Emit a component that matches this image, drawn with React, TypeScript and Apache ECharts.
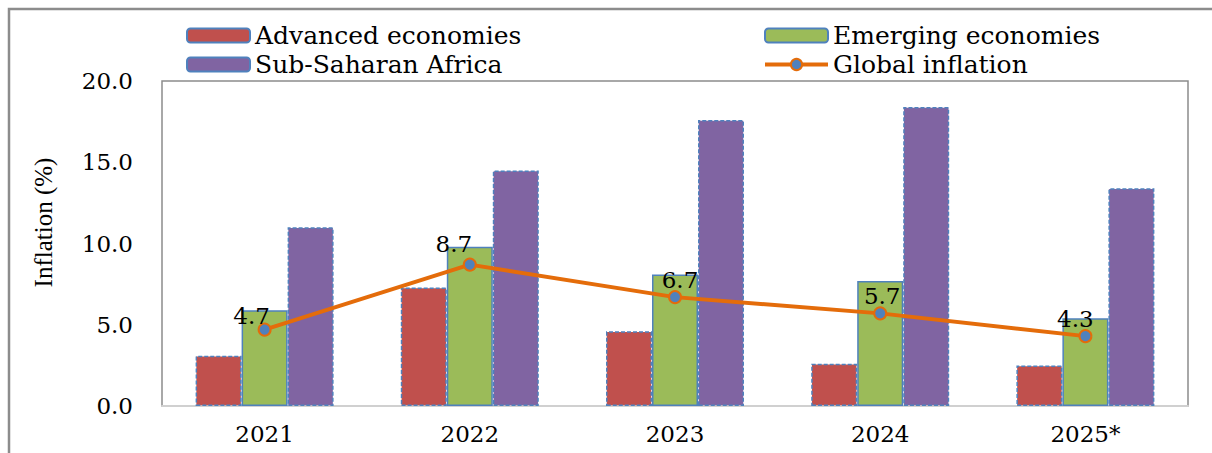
import React, { useEffect, useRef } from "react";
import * as echarts from "echarts";

const categories = ["2021", "2022", "2023", "2024", "2025*"];
const advanced = [3.1, 7.3, 4.6, 2.6, 2.5];
const emerging = [5.9, 9.8, 8.1, 7.7, 5.4];
const subSaharan = [11.0, 14.5, 17.6, 18.4, 13.4];
const globalInflation = [4.7, 8.7, 6.7, 5.7, 4.3];
const yTicks = [0, 5, 10, 15, 20];

// label nudges (styling only)
const labelNudges: [number, number][] = [[-13, 5], [-16, -2], [5, 1], [2, 1], [-10, 1]];

const SERIF = "Liberation Serif";
const WIDE_SERIF = "DejaVu Serif";
const BLUE = "#4f81bd";

export default function App() {
  const ref = useRef<HTMLDivElement>(null);
  useEffect(() => {
    if (!ref.current) return;
    const chart = echarts.init(ref.current, undefined, { renderer: "svg" });
    const barBase = (name: string, data: number[], color: string, dashed: boolean) => ({
      name,
      type: "bar",
      data,
      barWidth: 46,
      barGap: "0%",
      itemStyle: {
        color,
        borderColor: BLUE,
        borderWidth: 1.5,
        borderType: dashed ? [4, 2] : "solid",
      },
    });
    const legendText = { fontFamily: WIDE_SERIF, fontSize: 25, color: "#000", lineHeight: 24 };
    chart.setOption({
      animation: false,
      backgroundColor: "#ffffff",
      textStyle: { fontFamily: SERIF },
      graphic: [
        {
          type: "rect",
          shape: { x: 9, y: 9, width: 1230, height: 470 },
          style: { fill: "none", stroke: "#8c8c8c", lineWidth: 2.5 },
          silent: true,
        },
      ],
      legend: [
        {
          orient: "vertical",
          left: 181,
          top: 18,
          itemWidth: 63,
          itemHeight: 14,
          itemGap: 4,
          data: ["Advanced economies", "Sub-Saharan Africa"],
          textStyle: legendText,
          lineStyle: { width: 4 },
        },
        {
          orient: "vertical",
          left: 758,
          top: 18,
          itemWidth: 63,
          itemHeight: 14,
          itemGap: 4,
          data: ["Emerging economies", "Global inflation"],
          textStyle: legendText,
          lineStyle: { width: 4 },
        },
      ],
      grid: {
        left: 162,
        top: 81,
        right: 24,
        bottom: 47,
        show: true,
        borderColor: "#8c8c8c",
        borderWidth: 1.5,
        containLabel: false,
      },
      xAxis: {
        type: "category",
        data: categories,
        axisTick: { show: false },
        axisLine: { show: true, lineStyle: { color: "#d0d0d0", width: 2 } },
        axisLabel: { fontFamily: WIDE_SERIF, fontSize: 23, color: "#000", margin: 16 },
      },
      yAxis: {
        type: "value",
        min: yTicks[0],
        max: yTicks[yTicks.length - 1],
        interval: 5,
        splitLine: { show: false },
        axisLine: { show: false },
        axisTick: { show: false },
        axisLabel: {
          fontFamily: WIDE_SERIF,
          fontSize: 23,
          color: "#000",
          margin: 29,
          formatter: (v: number) => v.toFixed(1),
        },
        name: "Inflation (%)",
        nameLocation: "middle",
        nameRotate: 90,
        nameGap: 106,
        nameTextStyle: {
          fontFamily: SERIF,
          fontSize: 25,
          color: "#000",
          padding: [0, 0, 0, 42],
        },
      },
      series: [
        barBase("Advanced economies", advanced, "#c0504d", true),
        barBase("Emerging economies", emerging, "#9bbb59", false),
        barBase("Sub-Saharan Africa", subSaharan, "#8064a2", true),
        {
          name: "Global inflation",
          type: "line",
          z: 5,
          data: globalInflation.map((v, i) => ({
            value: v,
            label: { offset: labelNudges[i] },
          })),
          symbol: "circle",
          symbolSize: 12,
          lineStyle: { color: "#e46c0a", width: 4 },
          itemStyle: { color: BLUE, borderColor: "#e46c0a", borderWidth: 2 },
          label: {
            show: true,
            position: "top",
            distance: 0,
            fontFamily: WIDE_SERIF,
            fontSize: 23,
            color: "#000",
            formatter: (p: any) => Number(p.value).toFixed(1),
          },
        },
      ],
    });
    return () => chart.dispose();
  }, []);
  return (
    <div
      ref={ref}
      style={{ position: "fixed", left: 0, top: 0, width: 1212, height: 453 }}
    />
  );
}
